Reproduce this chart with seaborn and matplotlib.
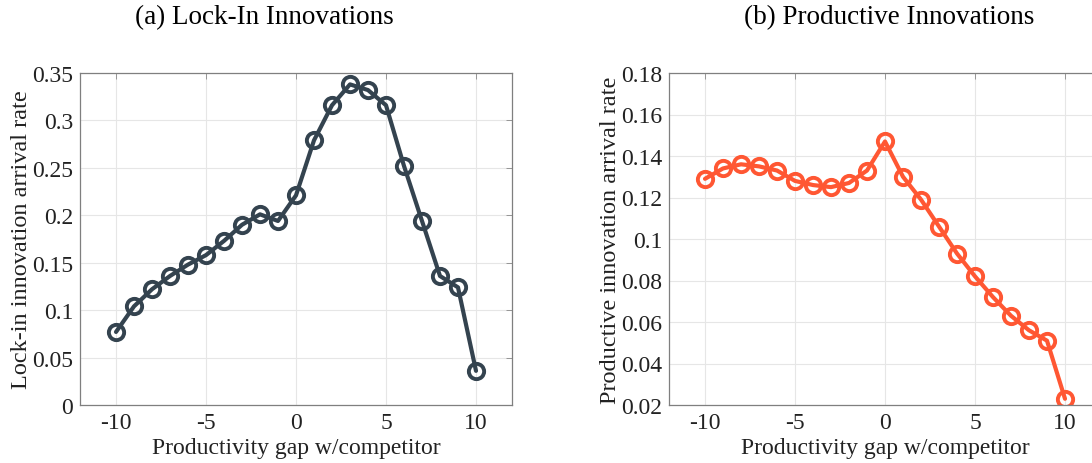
import numpy as np
import pandas as pd
import matplotlib
matplotlib.use("Agg")
import matplotlib.pyplot as plt
import seaborn as sns

# Productivity gap grid and model outputs
gap = [-10, -9, -8, -7, -6, -5, -4, -3, -2, -1, 0, 1, 2, 3, 4, 5, 6, 7, 8, 9, 10]
lockin_rate = [0.077, 0.104, 0.122, 0.136, 0.148, 0.158, 0.173, 0.190, 0.201, 0.194, 0.221,
               0.279, 0.316, 0.338, 0.332, 0.316, 0.252, 0.194, 0.136, 0.124, 0.036]
productive_rate = [0.129, 0.134, 0.136, 0.135, 0.133, 0.128, 0.126, 0.125, 0.127, 0.133, 0.147,
                   0.130, 0.119, 0.106, 0.093, 0.082, 0.072, 0.063, 0.056, 0.051, 0.023]

titles = ["(a) Lock-In Innovations", "(b) Productive Innovations"]
ylabels = ["Lock-in innovation arrival rate", "Productive innovation arrival rate"]
xlabel = "Productivity gap w/competitor"
xticks = [-10, -5, 0, 5, 10]
yticks_a = [0, 0.05, 0.1, 0.15, 0.2, 0.25, 0.3, 0.35]
ytick_labels_a = ["0", "0.05", "0.1", "0.15", "0.2", "0.25", "0.3", "0.35"]
yticks_b = [0.02, 0.04, 0.06, 0.08, 0.1, 0.12, 0.14, 0.16, 0.18]
ytick_labels_b = ["0.02", "0.04", "0.06", "0.08", "0.1", "0.12", "0.14", "0.16", "0.18"]

sns.set_theme(style="whitegrid")
plt.rcParams["font.family"] = ["Liberation Serif", "DejaVu Serif"]

W, H = 1092, 464
fig = plt.figure(figsize=(W / 100, H / 100), dpi=100)
ax_a = fig.add_axes([80 / W, 58 / H, 432 / W, 332 / H])
ax_b = fig.add_axes([669 / W, 58 / H, 432 / W, 332 / H])

df = pd.DataFrame({"gap": gap, "lockin": lockin_rate, "productive": productive_rate})

panels = [
    (ax_a, "lockin", "#34434f", (0, 0.35), yticks_a, ytick_labels_a),
    (ax_b, "productive", "#ff5733", (0.02, 0.18), yticks_b, ytick_labels_b),
]

for i, (ax, col, color, ylim, yt, ytl) in enumerate(panels):
    sns.lineplot(data=df, x="gap", y=col, ax=ax, color=color, linewidth=3.0,
                 marker="o", markersize=11, markerfacecolor="none",
                 markeredgecolor=color, markeredgewidth=2.8)
    ax.set_xlim(-12, 12)
    ax.set_ylim(*ylim)
    ax.set_xticks(xticks)
    ax.set_xticklabels([str(t) for t in xticks])
    ax.set_yticks(yt)
    ax.set_yticklabels(ytl)
    ax.set_xlabel(xlabel, fontsize=17, color="#222222", labelpad=3)
    ax.set_ylabel(ylabels[i], fontsize=17.5, color="#222222", labelpad=0)
    ax.grid(True, color="#e6e6e6", linewidth=0.8)
    ax.tick_params(axis="both", labelsize=17, colors="#222222", direction="in",
                   length=4, width=0.6, top=True, right=True, pad=5)
    ax.tick_params(axis="both", color="#888888")
    for s in ax.spines.values():
        s.set_visible(True)
        s.set_color("#7f7f7f")
        s.set_linewidth(0.9)

# Subfigure captions
fig.text(264 / W, 1 - 18 / H, titles[0], ha="center", va="center", fontsize=19.5, color="black")
fig.text(889 / W, 1 - 18 / H, titles[1], ha="center", va="center", fontsize=19.5, color="black")

fig.savefig("out.png", dpi=100)
